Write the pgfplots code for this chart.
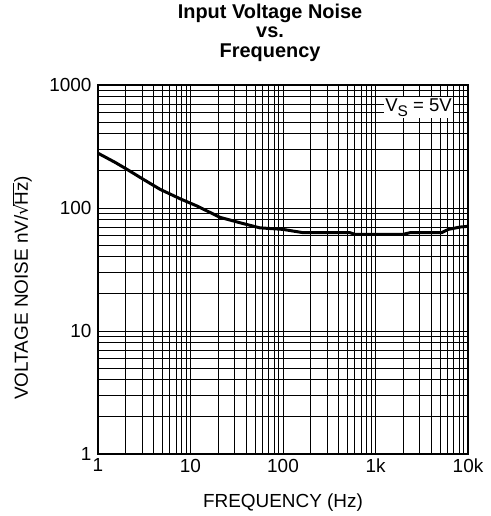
\documentclass[border=0pt]{standalone}
\usepackage{pgfplots}
\pgfplotsset{compat=1.18}
\usepackage{fontspec}
\setmainfont{Liberation Sans}
\newfontfamily\djv{DejaVu Sans}
\begin{document}
\begin{tikzpicture}
\useasboundingbox (-98bp,-62bp) rectangle (393bp,454bp);
\begin{axis}[
  at={(0,0)}, anchor=south west,
  scale only axis, width=370bp, height=369bp,
  xmode=log, ymode=log,
  xmin=1, xmax=10000, ymin=1, ymax=1000,
  xtick={1,10,100,1000,10000},
  xticklabels={1,10,100,1k,10k},
  ytick={1,10,100,1000},
  yticklabels={1,10,100,1000},
  major tick length=0pt, minor tick length=0pt,
  grid=both,
  major grid style={black, line width=1bp},
  minor grid style={black, line width=1bp},
  axis line style={black, line width=2bp},
  tick label style={font=\fontsize{19}{22}\selectfont},
  xticklabel style={yshift=-1.4bp},
  yticklabel style={xshift=-3bp},
  label style={font=\fontsize{19}{22}\selectfont},
  xlabel={FREQUENCY (Hz)},
  ylabel={VOLTAGE NOISE nV/{\djv\fontsize{17}{17}\selectfont √}\kern-1.2bp$\overline{\mbox{Hz}}$)},
  xlabel style={at={(axis description cs:0.5,0)}, anchor=base, yshift=-53bp},
  ylabel style={at={(axis description cs:-0.1892,0.45)}, anchor=base, rotate=0, inner sep=0pt},
  title style={font=\bfseries\fontsize{20}{19.5}\selectfont, align=center,
    at={(axis description cs:0.465,1)}, anchor=south, inner sep=0pt, yshift=17.5bp},
  title={Input Voltage Noise\\vs.\\Frequency},
]
\addplot[black, line width=3bp, line join=round] coordinates {
(1,279) (1.53,235) (2.04,207) (3.09,171) (4.68,142) (7.7,119)
(11.7,104) (20.8,84) (34,76) (56,69) (100,67) (165,63)
(530,63) (600,61) (1980,61) (2360,63) (5190,63) (6130,67)
(8200,70) (10000,71)
};
\node[fill=white, inner sep=1.5bp, anchor=north east, font=\fontsize{18.6}{20}\selectfont]
  at (rel axis cs:0.9608,0.9678) {V\raisebox{-5bp}{\fontsize{15.5}{15.5}\selectfont S} = 5V};
\end{axis}
\end{tikzpicture}
\end{document}
